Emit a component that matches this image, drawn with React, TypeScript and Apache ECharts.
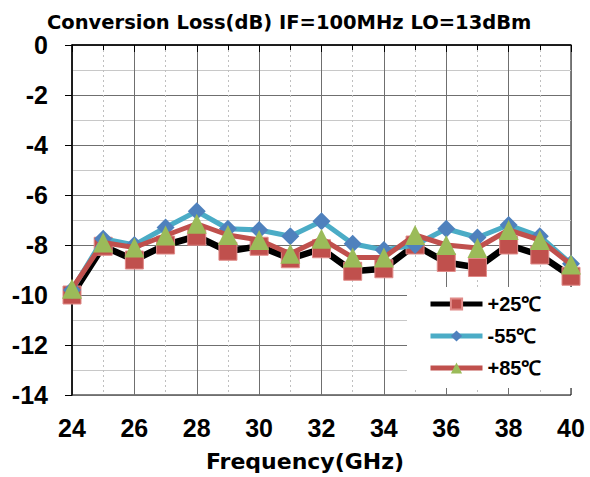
import React, { useEffect, useRef } from "react";
import * as echarts from "echarts";

const freqs = [24, 25, 26, 27, 28, 29, 30, 31, 32, 33, 34, 35, 36, 37, 38, 39, 40];
const p25 = [-10.0, -8.05, -8.6, -8.0, -7.65, -8.25, -8.05, -8.55, -8.15, -9.05, -8.95, -8.0, -8.7, -8.9, -8.0, -8.4, -9.25];
const m55 = [-9.8, -7.75, -8.0, -7.3, -6.65, -7.35, -7.4, -7.65, -7.05, -7.95, -8.2, -8.0, -7.35, -7.7, -7.2, -7.65, -8.75];
const p85 = [-9.75, -7.9, -8.1, -7.62, -7.15, -7.6, -7.8, -8.35, -7.75, -8.5, -8.5, -7.6, -8.0, -8.12, -7.4, -7.8, -8.78];
const seriesNames = ["+25℃", "-55℃", "+85℃"];
const titleText = "Conversion Loss(dB) IF=100MHz LO=13dBm";
const xName = "Frequency(GHz)";

const pts = (vals: number[]) => freqs.map((f, i) => [f, vals[i]]);

export default function App() {
  const ref = useRef<HTMLDivElement>(null);
  useEffect(() => {
    if (!ref.current) return;
    const chart = echarts.init(ref.current, null, { renderer: "svg" });
    const labelFont = { fontFamily: "Liberation Sans", fontWeight: "bold" as const, fontSize: 25, color: "#000" };
    chart.setOption({
      animation: false,
      backgroundColor: "#fff",
      title: {
        text: titleText,
        left: 42,
        top: 7,
        textStyle: { fontFamily: "DejaVu Sans", fontWeight: "bold", fontSize: 19.5, color: "#000" },
      },
      graphic: [
        {
          type: "text",
          x: 305,
          y: 461,
          style: {
            text: xName,
            fontFamily: "DejaVu Sans",
            fontWeight: "bold",
            fontSize: 22,
            fill: "#000",
            align: "center",
            verticalAlign: "middle",
          },
        },
      ],
      grid: {
        left: 72,
        right: 19,
        top: 45,
        bottom: 82,
        containLabel: false,
        show: true,
        borderColor: "#000",
        borderWidth: 1,
        backgroundColor: "#fff",
      },
      legend: {
        data: seriesNames,
        orient: "vertical",
        left: 407,
        top: 287,
        padding: [7, 31, 10, 21],
        itemGap: 12,
        itemWidth: 52,
        itemHeight: 14,
        backgroundColor: "#fff",
        lineStyle: { width: 5 },
        textStyle: { fontFamily: "Liberation Sans", fontWeight: "bold", fontSize: 20, color: "#000" },
      },
      xAxis: {
        type: "value",
        min: 24,
        max: 40,
        interval: 2,
        axisLine: { show: true, lineStyle: { color: "#000", width: 1.5 } },
        axisTick: { show: true, length: 7, lineStyle: { color: "#000" } },
        minorTick: { show: true, splitNumber: 2, length: 5, lineStyle: { color: "#000" } },
        axisLabel: { ...labelFont, margin: 20 },
        splitLine: { show: true, lineStyle: { color: "#6f6f6f", width: 1 } },
        minorSplitLine: { show: true, lineStyle: { color: "#bfbfbf", width: 1, type: [2, 3] } },
      },
      yAxis: {
        type: "value",
        min: -14,
        max: 0,
        interval: 2,
        axisLine: { show: true, lineStyle: { color: "#000", width: 1.5 } },
        axisTick: { show: true, length: 7, lineStyle: { color: "#000" } },
        minorTick: { show: false, splitNumber: 2 },
        axisLabel: { ...labelFont, margin: 24 },
        splitLine: { show: true, lineStyle: { color: "#6f6f6f", width: 1 } },
        minorSplitLine: { show: true, lineStyle: { color: "#c8c8c8", width: 1 } },
      },
      series: [
        {
          name: seriesNames[0],
          type: "line",
          data: pts(p25),
          symbol: "rect",
          symbolSize: 18,
          lineStyle: { color: "#000", width: 6.5 },
          itemStyle: { color: "#C0504D", borderColor: "#e08a88", borderWidth: 1 },
          z: 2,
        },
        {
          name: seriesNames[1],
          type: "line",
          data: pts(m55),
          symbol: "diamond",
          symbolSize: 18,
          lineStyle: { color: "#4BACC6", width: 5 },
          itemStyle: { color: "#4F81BD", borderWidth: 0 },
          z: 3,
        },
        {
          name: seriesNames[2],
          type: "line",
          data: pts(p85),
          symbol: "triangle",
          symbolSize: 20,
          lineStyle: { color: "#C0504D", width: 5 },
          itemStyle: { color: "#9BBB59", borderWidth: 0 },
          z: 4,
        },
      ],
    });
    return () => chart.dispose();
  }, []);
  return <div ref={ref} style={{ width: 590, height: 477, position: "absolute", left: 0, top: 0 }} />;
}
